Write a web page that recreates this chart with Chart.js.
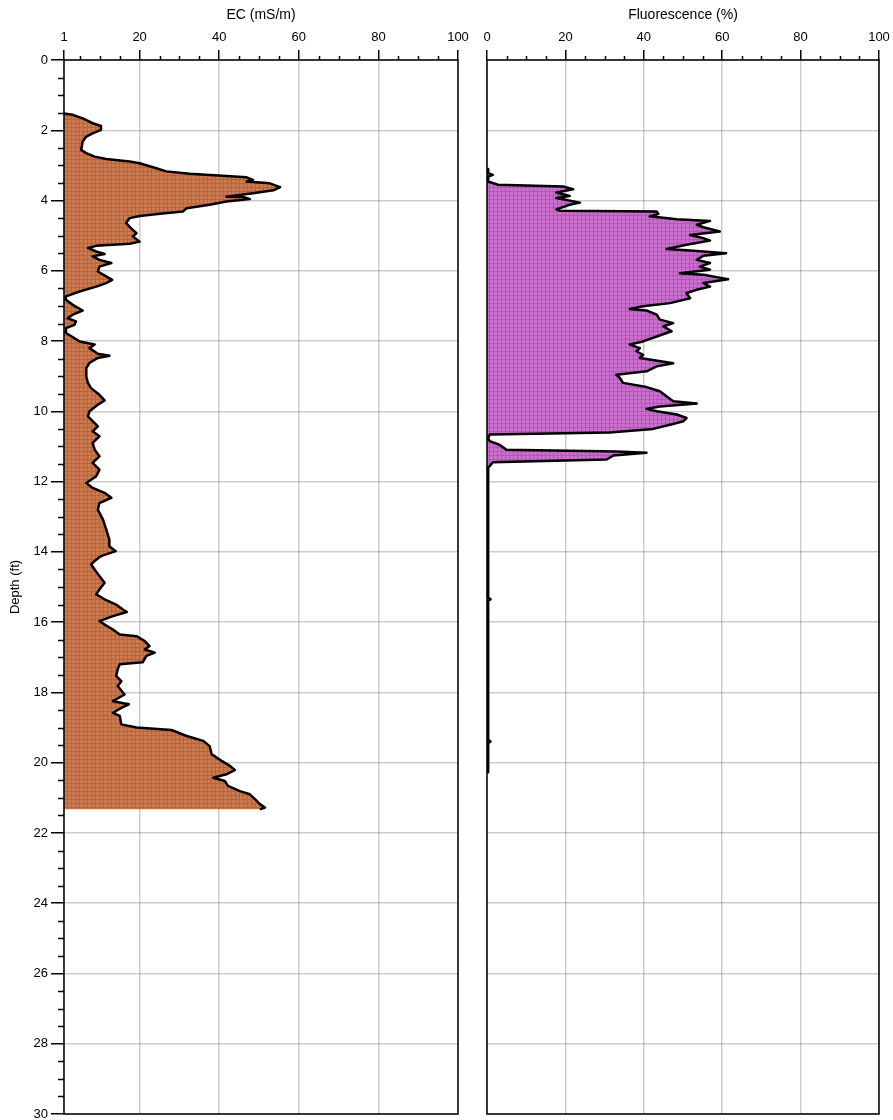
<!DOCTYPE html>
<html>
<head>
<meta charset="utf-8">
<script src="https://cdn.jsdelivr.net/npm/chart.js@4.4.1/dist/chart.umd.min.js"></script>
<style>
  html, body { margin: 0; padding: 0; background: #fff; overflow: hidden; }
  #wrap { position: relative; width: 893px; height: 1120px; }
  #ecChart { position: absolute; left: 0; top: 0; }
  #flChart { position: absolute; left: 470px; top: 0; }
</style>
</head>
<body>
<div id="wrap">
  <canvas id="ecChart" width="470" height="1120"></canvas>
  <canvas id="flChart" width="423" height="1120"></canvas>
</div>
<script>
// tick labels
const ecTicks = [1, 20, 40, 60, 80, 100];
const flTicks = [0, 20, 40, 60, 80, 100];
const depthTicks = [0, 2, 4, 6, 8, 10, 12, 14, 16, 18, 20, 22, 24, 26, 28, 30];

// EC log (depth in ft, EC in mS/m)
const ecDepth = [1.52, 1.56, 1.66, 1.80, 1.88, 1.99, 2.09, 2.18, 2.32, 2.56, 2.65, 2.75, 2.82, 2.89, 2.94, 3.08, 3.17, 3.24,
  3.34, 3.41, 3.46, 3.51, 3.62, 3.71, 3.79, 3.89, 3.90, 3.96, 4.03, 4.12, 4.22, 4.31, 4.36, 4.44, 4.50, 4.64, 4.79, 4.93,
  5.02, 5.17, 5.23, 5.29, 5.35, 5.45, 5.52, 5.59, 5.69, 5.78, 5.88, 6.02, 6.16, 6.26, 6.35, 6.45, 6.59, 6.73, 6.82, 6.97,
  7.13, 7.25, 7.35, 7.44, 7.54, 7.63, 7.77, 8.01, 8.10, 8.20, 8.36, 8.42, 8.48, 8.62, 8.77, 9.00, 9.19, 9.34, 9.53, 9.69,
  9.81, 10.00, 10.14, 10.28, 10.43, 10.57, 10.71, 10.90, 11.09, 11.28, 11.47, 11.66, 11.85, 12.04, 12.18, 12.32, 12.46,
  12.61, 12.80, 13.08, 13.36, 13.65, 13.84, 13.98, 14.12, 14.26, 14.36, 14.50, 14.69, 14.88, 15.07, 15.21, 15.35, 15.50,
  15.64, 15.71, 15.83, 15.97, 16.07, 16.21, 16.35, 16.40, 16.54, 16.68, 16.78, 16.87, 16.96, 17.14, 17.20, 17.34, 17.53,
  17.68, 17.82, 18.06, 18.25, 18.34, 18.44, 18.58, 18.67, 18.91, 19.00, 19.07, 19.24, 19.38, 19.53, 19.76, 19.95, 20.09,
  20.21, 20.33, 20.43, 20.52, 20.66, 20.81, 20.90, 21.04, 21.18, 21.28, 21.33];
const ecValue = [1, 3.2, 5.7, 8.2, 10.3, 10.3, 8.2, 6.6, 5.7, 5.3, 6.6, 8.7, 11.6, 17.5, 20, 24.2, 26.7, 32.6,
  46.9, 48.5, 46.9, 52.7, 55.3, 53.6, 48.5, 41.8, 46, 47.7, 41.8, 37.6, 31.8, 30.9, 26.3, 20, 17.5, 16.6, 17.9, 19.2,
  18.3, 20, 17.5, 9.1, 7.0, 9.1, 11.2, 8.2, 9.9, 12.9, 9.9, 9.5, 11.6, 13.1, 11.6, 9.1, 4.9, 1.5, 1.4, 3.2,
  5.7, 3.2, 1.9, 4.0, 3.6, 1.5, 1.5, 4.9, 8.7, 7.4, 9.5, 12.4, 9.5, 7.4, 6.6, 6.6, 7.0, 7.8, 9.9, 11.2,
  9.5, 7.4, 7.0, 8.2, 9.5, 8.2, 9.9, 8.2, 8.7, 9.9, 8.2, 9.9, 9.1, 6.6, 8.2, 11.2, 12.9,
  9.9, 9.5, 10.8, 11.6, 12.4, 12.4, 14, 10.3, 8.7, 7.8, 8.7, 9.9, 11.2, 9.9, 9.1, 11.2, 14.1,
  15.8, 16.8, 13.3, 9.9, 11.2, 13.3, 15.0, 19.2, 21.3, 22.5, 21.3, 23.8, 21.7, 20.8, 15.0, 14.5, 14.1,
  15.4, 14.5, 16.2, 13.3, 17.3, 15.4, 13.3, 15, 15.4, 19.2, 28, 31.8, 36, 37.6, 38.1, 40.6, 42.7,
  43.9, 41.8, 38.5, 41.4, 42.2, 45.2, 47.7, 49, 50.2, 51.5, 50.2];

// Fluorescence log (depth in ft, %)
const flDepth = [3.10, 3.18, 3.22, 3.27, 3.32, 3.46, 3.55, 3.60, 3.68, 3.77, 3.87, 3.93, 4.06, 4.12, 4.25, 4.29, 4.31,
  4.38, 4.45, 4.53, 4.58, 4.69, 4.76, 4.88, 4.98, 5.07, 5.14, 5.26, 5.38, 5.42, 5.50, 5.57, 5.69, 5.78, 5.88, 5.97,
  6.07, 6.11, 6.18, 6.24, 6.35, 6.45, 6.54, 6.63, 6.78, 6.92, 7.01, 7.09, 7.13, 7.25, 7.39, 7.49, 7.58, 7.72, 7.87,
  8.01, 8.10, 8.20, 8.29, 8.39, 8.48, 8.63, 8.72, 8.86, 8.96, 9.05, 9.19, 9.31, 9.43, 9.57, 9.71, 9.78, 9.86, 9.93,
  10.00, 10.09, 10.19, 10.28, 10.38, 10.50, 10.60, 10.66, 10.76, 10.85, 10.95, 11.09, 11.14, 11.18, 11.26, 11.37,
  11.45, 11.61, 11.94, 15.30, 15.35, 15.40, 19.35, 19.40, 19.45, 20.27];
const flValue = [0.3, 0.3, 0.3, 1.5, 0.3, 0.3, 2.8, 19.4, 22, 17.7, 21.1, 17.7, 23.7, 21.1, 17.7, 18.6, 43.3,
  43.7, 41.5, 48.4, 56.9, 53.5, 55.2, 59.4, 51.8, 55.2, 56.9, 50.9, 45.8, 51.8, 61, 55.2, 53.5, 56.9, 54.3, 56.9,
  49.2, 55.2, 58.6, 61.5, 55.2, 56.9, 53.5, 50.9, 51.8, 46.7, 39.8, 36.4, 40.7, 43.3, 44.1, 47.5, 45, 47.1, 43.3,
  39.8, 36.4, 39, 38.1, 39.8, 39, 47.5, 43.3, 40.7, 33, 33.9, 34.7, 40.7, 44.1, 45.8, 47.5, 53.5, 44.1, 40.7,
  43.3, 48.4, 50.9, 50.1, 46.7, 42.4, 31.3, 0.7, 0.3, 0.7, 3.2, 4.9, 33, 40.7, 32.2, 30.5,
  1.5, 0.3, 0.3, 0.3, 0.9, 0.3, 0.3, 0.9, 0.3, 0.3];

const FONT = "'Liberation Sans', Arial, sans-serif";
const GRID = 'rgba(0,0,0,0.2)';

function makePattern(base, line) {
  const c = document.createElement('canvas');
  c.width = 4; c.height = 4;
  const g = c.getContext('2d');
  g.fillStyle = base;
  g.fillRect(0, 0, 4, 4);
  g.fillStyle = line;
  g.fillRect(3, 0, 1, 4);
  g.fillRect(0, 3, 3, 1);
  return g.createPattern(c, 'repeat');
}

// frame round the plot area plus the small minor tick marks
const panelFrame = {
  id: 'panelFrame',
  afterDraw(chart, args, opts) {
    const { ctx, chartArea: a, scales } = chart;
    ctx.save();
    ctx.strokeStyle = '#000';
    ctx.lineWidth = 1.5;
    const x = scales.x;
    for (let v = opts.xStep; v < x.max; v += opts.xStep) {
      if (v % 20 === 0) continue;
      const px = Math.round(x.getPixelForValue(v)) + 0.5;
      ctx.beginPath();
      ctx.moveTo(px, a.top);
      ctx.lineTo(px, a.top - 4);
      ctx.stroke();
    }
    if (opts.yStep) {
      const y = scales.y;
      for (let d = opts.yStep; d < y.max; d += opts.yStep) {
        if (d % 2 === 0) continue;
        const py = Math.round(y.getPixelForValue(d)) + 0.5;
        ctx.beginPath();
        ctx.moveTo(a.left, py);
        ctx.lineTo(a.left - 6, py);
        ctx.stroke();
      }
    }
    ctx.strokeRect(a.left, a.top, a.right - a.left, a.bottom - a.top);
    ctx.restore();
  }
};

function xAxis(min, ticks, title) {
  return {
    type: 'linear', position: 'top', min: min, max: 100, z: 1,
    afterBuildTicks: s => { s.ticks = ticks.map(v => ({ value: v })); },
    afterFit: s => { s.height = 60; s.paddingLeft = 0; s.paddingRight = 0; },
    ticks: { color: '#000', font: { family: FONT, size: 13 }, padding: 5, maxRotation: 0, autoSkip: false },
    grid: { color: GRID, lineWidth: 1.5, tickColor: '#000', tickWidth: 1.5, tickLength: 10 },
    border: { display: false },
    title: { display: true, text: title, color: '#000', font: { family: FONT, size: 14 }, padding: { top: 7, bottom: 0 } }
  };
}

function logChart(id, points, min, ticks, title, fill, showDepth) {
  const yAxis = {
    type: 'linear', reverse: true, min: 0, max: 30, z: 1,
    afterBuildTicks: s => { s.ticks = depthTicks.map(v => ({ value: v })); },
    afterFit: s => { s.width = showDepth ? 64 : 0; s.paddingTop = 0; s.paddingBottom = 0; },
    ticks: { display: showDepth, color: '#000', font: { family: FONT, size: 13 }, padding: 3 },
    grid: { color: GRID, lineWidth: 1.5, tickColor: '#000', tickWidth: 1.5, tickLength: showDepth ? 13 : 0, drawTicks: showDepth },
    border: { display: false },
    title: { display: showDepth, text: 'Depth (ft)', color: '#000', font: { family: FONT, size: 13 }, padding: { top: 8 } }
  };
  return new Chart(document.getElementById(id), {
    type: 'line',
    data: {
      datasets: [{
        data: points,
        borderColor: '#000',
        borderWidth: 2.5,
        borderJoinStyle: 'round',
        backgroundColor: fill,
        fill: { value: min },
        pointRadius: 0,
        tension: 0
      }]
    },
    options: {
      responsive: false,
      animation: false,
      indexAxis: 'y',
      layout: { padding: showDepth ? { left: 0, top: 0, right: 12, bottom: 6 } : { left: 17, top: 0, right: 14, bottom: 6 } },
      scales: { x: xAxis(min, ticks, title), y: yAxis },
      plugins: {
        legend: { display: false },
        tooltip: { enabled: false },
        panelFrame: { xStep: 5, yStep: showDepth ? 0.5 : 0 }
      }
    },
    plugins: [panelFrame]
  });
}

const ecPoints = ecDepth.map((d, i) => ({ x: ecValue[i], y: d }));
const flPoints = flDepth.map((d, i) => ({ x: flValue[i], y: d }));

logChart('ecChart', ecPoints, 1, ecTicks, 'EC (mS/m)', makePattern('#cc7a50', 'rgba(140,60,25,0.35)'), true);
logChart('flChart', flPoints, 0, flTicks, 'Fluorescence (%)', makePattern('#cc70cf', 'rgba(120,30,130,0.3)'), false);
</script>
</body>
</html>
